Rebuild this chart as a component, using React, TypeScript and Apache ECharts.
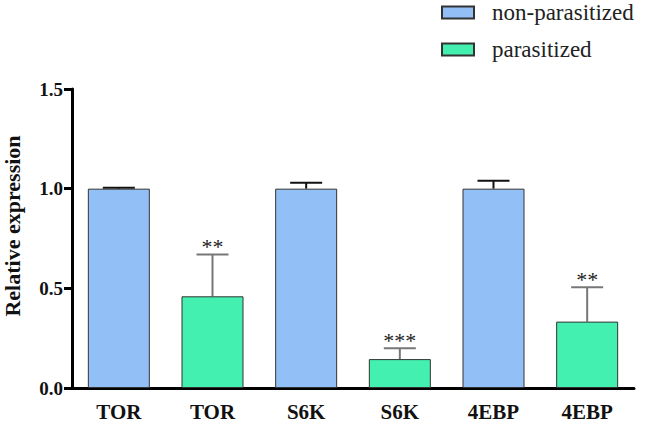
import React, { useEffect, useRef } from "react";
import * as echarts from "echarts";

const categories = ["TOR", "TOR", "S6K", "S6K", "4EBP", "4EBP"];
const nonParasitized = [1.0, "-", 1.0, "-", 1.0, "-"];
const parasitized = ["-", 0.46, "-", 0.145, "-", 0.333];
// [categoryIndex, mean, upper error, significance, group]
const errorBars = [
  [0, 1.0, 1.005, "", 0],
  [1, 0.46, 0.67, "**", 1],
  [2, 1.0, 1.03, "", 0],
  [3, 0.145, 0.2, "***", 1],
  [4, 1.0, 1.04, "", 0],
  [5, 0.333, 0.506, "**", 1],
];
const yTicks = [0, 0.5, 1.0, 1.5];

const FAMILY = "Times New Roman, Liberation Serif, serif";

export default function App() {
  const ref = useRef<HTMLDivElement>(null);
  useEffect(() => {
    document.body.style.margin = "0";
    if (!ref.current) return;
    const chart = echarts.init(ref.current, null, { renderer: "svg" });
    chart.setOption({
      animation: false,
      backgroundColor: "#fff",
      textStyle: { fontFamily: FAMILY },
      legend: {
        orient: "vertical",
        left: 441,
        top: 0,
        padding: 0,
        itemWidth: 32,
        itemHeight: 12,
        itemGap: 12,
        icon: "rect",
        textStyle: {
          fontFamily: FAMILY,
          fontSize: 23,
          color: "#222",
          lineHeight: 23,
          padding: [2, 0, 0, 13],
        },
        data: ["non-parasitized", "parasitized"],
      },
      grid: { left: 72, right: 15, top: 89, bottom: 33, containLabel: false },
      xAxis: {
        type: "category",
        data: categories,
        axisLine: { lineStyle: { color: "#000", width: 3 } },
        axisTick: { alignWithLabel: true, length: 7, lineStyle: { width: 3, color: "#000" } },
        axisLabel: {
          fontFamily: FAMILY,
          fontWeight: "bold",
          fontSize: 21,
          color: "#111",
          margin: 13,
        },
      },
      yAxis: {
        type: "value",
        min: yTicks[0],
        max: yTicks[yTicks.length - 1],
        interval: 0.5,
        axisLine: { show: true, lineStyle: { color: "#000", width: 3 } },
        axisTick: { show: true, length: 8, lineStyle: { width: 3, color: "#000" } },
        splitLine: { show: false },
        axisLabel: {
          fontFamily: FAMILY,
          fontWeight: "bold",
          fontSize: 19,
          color: "#111",
          margin: 9,
          formatter: (v: number) => v.toFixed(1),
        },
      },
      graphic: [
        {
          type: "text",
          x: 12,
          y: 226,
          rotation: Math.PI / 2,
          style: {
            text: "Relative expression",
            fontFamily: FAMILY,
            fontWeight: "bold",
            fontSize: 22,
            fill: "#111",
            align: "center",
            verticalAlign: "middle",
          },
        },
      ],
      series: [
        {
          name: "non-parasitized",
          type: "bar",
          data: nonParasitized,
          barWidth: 62,
          barGap: "-100%",
          itemStyle: { color: "#93BFF7", borderColor: "#333", borderWidth: 1 },
          z: 2,
        },
        {
          name: "parasitized",
          type: "bar",
          data: parasitized,
          barWidth: 62,
          barGap: "-100%",
          itemStyle: { color: "#44F0B0", borderColor: "#333", borderWidth: 1 },
          z: 2,
        },
        {
          type: "custom",
          data: errorBars,
          z: 1,
          encode: { x: 0, y: [1, 2] },
          renderItem: (params: any, api: any) => {
            const idx = api.value(0);
            const mean = api.value(1);
            const up = api.value(2);
            const stars = errorBars[params.dataIndex][3] as string;
            const group = errorBars[params.dataIndex][4] as number;
            const p0 = api.coord([idx, mean]);
            const p1 = api.coord([idx, up]);
            const x = p0[0];
            const col = group === 0 ? "#111" : "#777";
            const half = 16;
            const children: any[] = [
              {
                type: "line",
                shape: { x1: x, y1: p0[1], x2: x, y2: p1[1] },
                style: { stroke: col, lineWidth: 2 },
              },
              {
                type: "line",
                shape: { x1: x - half, y1: p1[1], x2: x + half, y2: p1[1] },
                style: { stroke: col, lineWidth: 2 },
              },
            ];
            if (stars) {
              children.push({
                type: "text",
                style: {
                  text: stars,
                  x: x,
                  y: p1[1] - 8,
                  align: "center",
                  verticalAlign: "middle",
                  fontFamily: FAMILY,
                  fontSize: 22,
                  fill: "#222",
                },
              });
            }
            return { type: "group", children };
          },
        },
      ],
    });
    return () => chart.dispose();
  }, []);
  return <div ref={ref} style={{ width: 649, height: 422 }} />;
}
